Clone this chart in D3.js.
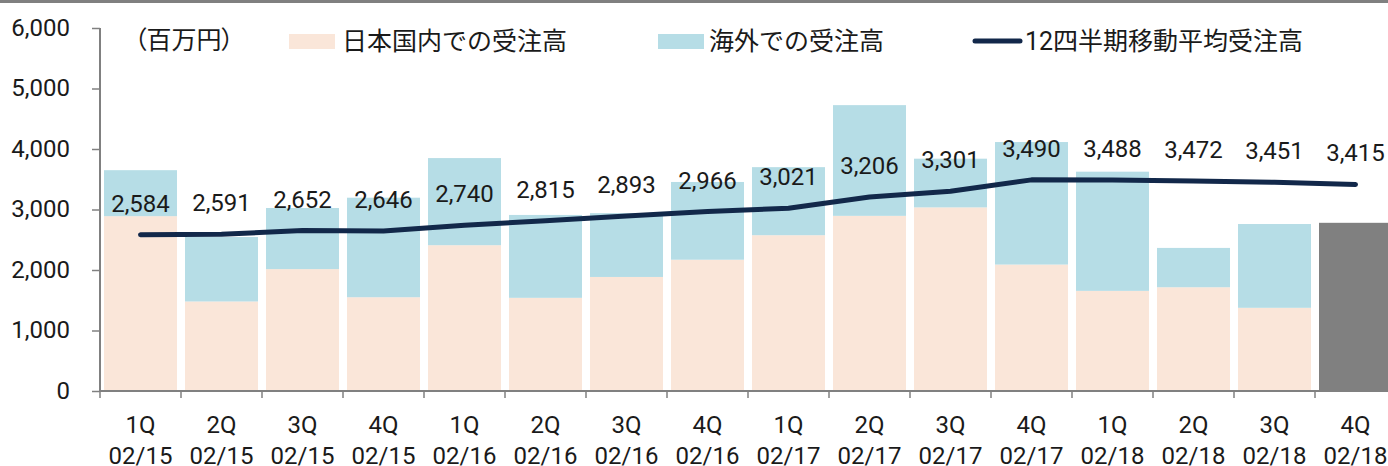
<!DOCTYPE html>
<html>
<head>
<meta charset="utf-8">
<script src="https://cdn.jsdelivr.net/npm/d3@7"></script>
<style>
  body { margin: 0; background: #fff; }
  text { font-family: Roboto, "Noto Sans CJK JP", sans-serif; fill: #1a1a1a; }
</style>
</head>
<body>
<div id="chart"></div>
<script>
// quarters shown on the x axis
const quarters = ["1Q","2Q","3Q","4Q","1Q","2Q","3Q","4Q","1Q","2Q","3Q","4Q","1Q","2Q","3Q","4Q"];
const periods = ["02/15","02/15","02/15","02/15","02/16","02/16","02/16","02/16","02/17","02/17","02/17","02/17","02/18","02/18","02/18","02/18"];

// orders received (million yen)
const domestic = [2890, 1480, 2015, 1550, 2410, 1540, 1885, 2170, 2575, 2895, 3035, 2090, 1655, 1715, 1375, null];
const overseas = [760, 1065, 1010, 1645, 1440, 1370, 1055, 1285, 1125, 1830, 805, 2025, 1970, 650, 1385, null];
const hidden = [null, null, null, null, null, null, null, null, null, null, null, null, null, null, null, 2780];
const movingAvg = [2584, 2591, 2652, 2646, 2740, 2815, 2893, 2966, 3021, 3206, 3301, 3490, 3488, 3472, 3451, 3415];

const yTicks = [0, 1000, 2000, 3000, 4000, 5000, 6000];

const W = 1388, H = 466;
const colDomestic = "#fae6d9", colOverseas = "#b6dde6", colLine = "#12284a", colGray = "#808080";

const svg = d3.select("#chart").append("svg")
    .attr("width", W).attr("height", H);

// top border stripe
svg.append("rect").attr("x", 0).attr("y", 0).attr("width", W).attr("height", 3).attr("fill", colGray);

const ids = d3.range(quarters.length);
const x = d3.scaleBand().domain(ids).range([100, 1396]).paddingInner(8 / 81).paddingOuter(4 / 81);
const y = d3.scaleLinear().domain([0, 6000]).range([391, 28]);
const step = x.step();

// bars
const g = svg.append("g");
ids.forEach(i => {
    if (domestic[i] != null) {
        g.append("rect").attr("x", x(i)).attr("width", x.bandwidth())
            .attr("y", y(domestic[i])).attr("height", y(0) - y(domestic[i]))
            .attr("fill", colDomestic);
        g.append("rect").attr("x", x(i)).attr("width", x.bandwidth())
            .attr("y", y(domestic[i] + overseas[i])).attr("height", y(domestic[i]) - y(domestic[i] + overseas[i]))
            .attr("fill", colOverseas);
    }
    if (hidden[i] != null) {
        g.append("rect").attr("x", x(i)).attr("width", x.bandwidth())
            .attr("y", y(hidden[i])).attr("height", y(0) - y(hidden[i]))
            .attr("fill", colGray);
    }
});

// y axis
const yAxis = svg.append("g").attr("transform", "translate(100,0)")
    .call(d3.axisLeft(y).tickValues(yTicks).tickFormat(d3.format(",d")).tickSize(8).tickPadding(22));
yAxis.select(".domain").attr("stroke", colGray).attr("stroke-width", 2).attr("d", "M0,28V391");
yAxis.selectAll(".tick line").attr("stroke", colGray).attr("stroke-width", 1.5);
yAxis.selectAll(".tick text").attr("font-size", 24).attr("font-family", "Roboto").attr("fill", "#1a1a1a").attr("dy", "0.3em");

// x axis
const xAxis = svg.append("g").attr("transform", "translate(0,391)");
xAxis.append("line").attr("x1", 100).attr("x2", W).attr("stroke", colGray).attr("stroke-width", 2);
xAxis.selectAll(".xt").data(ids).join("line")
    .attr("x1", d => x(d) - step * x.paddingOuter()).attr("x2", d => x(d) - step * x.paddingOuter())
    .attr("y1", 0).attr("y2", 7).attr("stroke", colGray).attr("stroke-width", 1.5);
const xl = xAxis.selectAll(".xl").data(ids).join("text")
    .attr("text-anchor", "middle").attr("font-size", 24);
xl.append("tspan").attr("x", d => x(d) + x.bandwidth() / 2).attr("y", 42).text(d => quarters[d]);
xl.append("tspan").attr("x", d => x(d) + x.bandwidth() / 2).attr("y", 73).text(d => periods[d]);

// moving average line
const line = d3.line().x((d, i) => x(i) + x.bandwidth() / 2).y(d => y(d));
svg.append("path").datum(movingAvg).attr("d", line)
    .attr("fill", "none").attr("stroke", colLine).attr("stroke-width", 5)
    .attr("stroke-linecap", "round").attr("stroke-linejoin", "round");

svg.selectAll(".lbl").data(movingAvg).join("text")
    .attr("x", (d, i) => x(i) + x.bandwidth() / 2).attr("y", d => y(d) - 23)
    .attr("text-anchor", "middle").attr("font-size", 24)
    .text(d => d3.format(",d")(d));

// legend
svg.append("text").attr("x", 134).attr("y", 49).attr("font-size", 25)
    .style("font-feature-settings", "'palt'").text("（百万円）");
svg.append("rect").attr("x", 289).attr("y", 34).attr("width", 46).attr("height", 15).attr("fill", colDomestic);
svg.append("text").attr("x", 342).attr("y", 50).attr("font-size", 25).text("日本国内での受注高");
svg.append("rect").attr("x", 658).attr("y", 34).attr("width", 46).attr("height", 15).attr("fill", colOverseas);
svg.append("text").attr("x", 709).attr("y", 50).attr("font-size", 25).text("海外での受注高");
svg.append("line").attr("x1", 975).attr("x2", 1020).attr("y1", 41).attr("y2", 41)
    .attr("stroke", colLine).attr("stroke-width", 5).attr("stroke-linecap", "round");
svg.append("text").attr("x", 1025).attr("y", 50).attr("font-size", 25).text("12四半期移動平均受注高");
</script>
</body>
</html>
